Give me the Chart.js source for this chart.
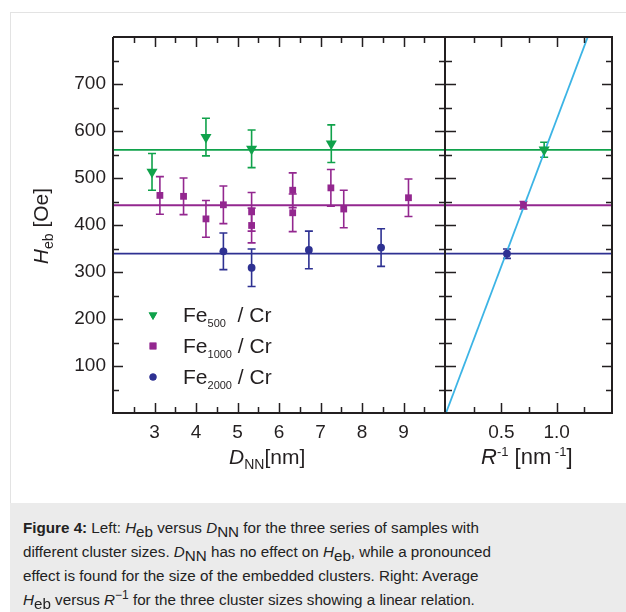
<!DOCTYPE html>
<html lang="en">
<head>
<meta charset="UTF-8">
<title>Heb versus DNN and R^-1</title>
<script src="https://cdn.jsdelivr.net/npm/chart.js"></script>
<style>
  body { margin: 0; width: 626px; height: 612px; background: #fff; position: relative; overflow: hidden;
         font-family: "Liberation Sans", Arial, sans-serif; color: #231f20; }
  .outline { position: absolute; left: 10px; top: 12px; width: 700px; height: 700px; border: 1px solid #e3e3e3; }
  .caption { position: absolute; left: 10px; top: 503px; width: 700px; height: 120px; background: #ebebeb; }
  canvas { position: absolute; top: 0; }
  .txt { position: absolute; white-space: nowrap; line-height: 21px; font-size: 21px; }
  .dn { position: relative; }
  .cap { position: absolute; left: 23px; top: 516px; font-size: 15.2px; line-height: 24px; white-space: nowrap; color: #222; }
</style>
</head>
<body>
<div class="outline"></div>
<div class="caption"></div>

<canvas id="leftChart" width="446" height="500" style="left:0"></canvas>
<canvas id="rightChart" width="180" height="500" style="left:446px"></canvas>

<!-- axis titles -->
<div class="txt" style="left:-58px; top:214px; width:200px; text-align:center; transform:rotate(-90deg);">
  <i>H</i><span class="dn" style="font-size:14px; top:5px;">eb</span> [Oe]
</div>
<div class="txt" style="left:229px; top:446px;">
  <i>D</i><span class="dn" style="font-size:14px; top:5px;">NN</span>[nm]
</div>
<div class="txt" style="left:481px; top:446px; font-size:22px;">
  <i>R</i><span class="dn" style="font-size:13px; top:-8px;">-1</span> [nm<span class="dn" style="font-size:13px; top:-8px;"> -1</span>]
</div>

<!-- legend labels -->
<div class="txt" style="left:183px; top:304px;">Fe<span class="dn" style="font-size:11px; top:5px;">500</span>&nbsp; / Cr</div>
<div class="txt" style="left:183px; top:335px;">Fe<span class="dn" style="font-size:11px; top:5px;">1000</span> / Cr</div>
<div class="txt" style="left:183px; top:366px;">Fe<span class="dn" style="font-size:11px; top:5px;">2000</span> / Cr</div>

<div class="cap">
  <b>Figure 4:</b> Left: <i>H</i><span class="dn" style="top:4px">eb</span> versus <i>D</i><span class="dn" style="top:4px">NN</span> for the three series of samples with<br>
  different cluster sizes. <i>D</i><span class="dn" style="top:4px">NN</span> has no effect on <i>H</i><span class="dn" style="top:4px">eb</span>, while a pronounced<br>
  effect is found for the size of the embedded clusters. Right: Average<br>
  <i>H</i><span class="dn" style="top:4px">eb</span> versus <i>R</i><span class="dn" style="top:-6px; font-size:12px">&minus;1</span> for the three cluster sizes showing a linear relation.
</div>

<script>
// Fe500 / Cr  (D_NN in nm, H_eb in Oe)
const fe500X   = [2.94, 4.24, 5.34, 7.26];
const fe500Y   = [513, 587, 562, 573];
const fe500Err = [39, 40, 40, 40];

// Fe1000 / Cr
const fe1000X   = [3.13, 3.70, 4.24, 4.66, 5.34, 5.34, 6.33, 6.33, 7.25, 7.56, 9.12];
const fe1000Y   = [463, 461, 413, 443, 428, 399, 474, 426, 479, 434, 458];
const fe1000Err = [40, 39, 39, 40, 41, 37, 37, 40, 39, 40, 40];

// Fe2000 / Cr
const fe2000X   = [4.66, 5.34, 6.72, 8.46];
const fe2000Y   = [344, 309, 347, 352];
const fe2000Err = [39, 40, 40, 40];

// averages (right panel) vs inverse cluster radius
const invR   = [0.887, 0.70, 0.551];
const avgHeb = [560, 442, 339];
const avgErr = [16, 8, 10];

// linear fit through origin
const fitX = [0, 1.5];
const fitY = [0, 937];

const colors = ['#10a24b', '#93278f', '#2e3192'];
const fitColor = '#3cb4e5';
const inkColor = '#231f20';

const leftX  = [2, 10];
const rightX = [0, 1.5];
const yRange = [0, 800];

const pts = (xs, ys) => xs.map((x, i) => ({ x: x, y: ys[i] }));
const hline = (range, v) => range.map(x => ({ x: x, y: v }));

const styles = [
  { pointStyle: 'triangle', rotation: 180, radius: 6.4, legendRadius: 5 },
  { pointStyle: 'rect', rotation: 0, radius: 4.8, legendRadius: 4.8 },
  { pointStyle: 'circle', rotation: 0, radius: 3.9, legendRadius: 3.5 }
];

function scatterSet(i, data, err) {
  return {
    type: 'scatter', data: data, yErr: err,
    pointStyle: styles[i].pointStyle, rotation: styles[i].rotation,
    pointRadius: styles[i].radius, pointHoverRadius: styles[i].radius,
    backgroundColor: colors[i], borderColor: colors[i], borderWidth: 0,
    order: 1
  };
}

function lineSet(data, color) {
  return {
    type: 'line', data: data, borderColor: color, borderWidth: 1.8,
    pointRadius: 0, fill: false, tension: 0, order: 5
  };
}

const isMult = (v, s) => Math.abs(v / s - Math.round(v / s)) < 1e-6;

// inward ticks and box frame
const framePlugin = {
  id: 'frame',
  afterDatasetsDraw(chart, args, opts) {
    const { ctx, chartArea: a, scales: { x, y } } = chart;
    ctx.save();
    ctx.strokeStyle = inkColor;
    ctx.lineWidth = 1.5;
    ctx.beginPath();
    x.ticks.forEach(t => {
      if (t.value <= x.min + 1e-9 || t.value >= x.max - 1e-9) return;
      const px = Math.round(x.getPixelForValue(t.value)) + 0.5;
      const len = isMult(t.value, opts.xMajor) ? 10 : 6;
      ctx.moveTo(px, a.bottom); ctx.lineTo(px, a.bottom - len);
      ctx.moveTo(px, a.top); ctx.lineTo(px, a.top + len);
    });
    y.ticks.forEach(t => {
      if (t.value <= y.min || t.value >= y.max) return;
      const py = Math.round(y.getPixelForValue(t.value)) + 0.5;
      const len = isMult(t.value, 100) ? 10 : 6;
      ctx.moveTo(a.left, py); ctx.lineTo(a.left + len, py);
      ctx.moveTo(a.right, py); ctx.lineTo(a.right - len, py);
    });
    ctx.stroke();
    ctx.lineWidth = 2;
    ctx.beginPath();
    if (opts.leftEdge) { ctx.moveTo(a.left, a.top); ctx.lineTo(a.left, a.bottom); }
    ctx.moveTo(a.left, a.top); ctx.lineTo(a.right, a.top);
    ctx.lineTo(a.right, a.bottom); ctx.lineTo(a.left - 1, a.bottom);
    ctx.stroke();
    ctx.restore();
  }
};

// vertical error bars with caps
const errorBarPlugin = {
  id: 'errorBars',
  beforeDatasetsDraw(chart) {
    const { ctx, scales: { y } } = chart;
    chart.data.datasets.forEach((ds, i) => {
      if (!ds.yErr) return;
      const meta = chart.getDatasetMeta(i);
      ctx.save();
      ctx.strokeStyle = ds.borderColor;
      ctx.lineWidth = 1.6;
      meta.data.forEach((pt, j) => {
        const v = ds.data[j].y, e = ds.yErr[j];
        const top = y.getPixelForValue(v + e), bot = y.getPixelForValue(v - e);
        ctx.beginPath();
        ctx.moveTo(pt.x, top); ctx.lineTo(pt.x, bot);
        ctx.moveTo(pt.x - 4, top); ctx.lineTo(pt.x + 4, top);
        ctx.moveTo(pt.x - 4, bot); ctx.lineTo(pt.x + 4, bot);
        ctx.stroke();
      });
      ctx.restore();
    });
  }
};

// legend markers (labels are html text)
const legendPlugin = {
  id: 'legendMarks',
  afterDraw(chart, args, opts) {
    if (!opts.show) return;
    const ctx = chart.ctx;
    styles.forEach((s, i) => {
      const cx = 153, cy = 315 + i * 31;
      ctx.save();
      ctx.fillStyle = colors[i];
      if (Chart.helpers && Chart.helpers.drawPoint) {
        Chart.helpers.drawPoint(ctx, { pointStyle: s.pointStyle, rotation: s.rotation, radius: s.legendRadius, borderWidth: 0 }, cx, cy);
        ctx.fill();
      }
      ctx.restore();
    });
  }
};

function scaleOpts(range, step, labelFn, width, height) {
  return {
    x: {
      type: 'linear', min: range[0], max: range[1],
      grid: { display: false, drawTicks: false }, border: { display: false },
      ticks: { stepSize: step, autoSkip: false, maxRotation: 0, padding: 8,
               color: inkColor, font: { family: 'Liberation Sans', size: 19 }, callback: labelFn },
      afterFit: s => { s.height = height; s.paddingLeft = 0; s.paddingRight = 0; }
    },
    y: {
      type: 'linear', min: yRange[0], max: yRange[1], display: width > 0,
      grid: { display: false, drawTicks: false }, border: { display: false },
      ticks: { stepSize: 50, autoSkip: false, padding: 7, color: inkColor,
               font: { family: 'Liberation Sans', size: 19 },
               callback: v => (isMult(v, 100) && v > yRange[0] && v < yRange[1]) ? v : '' },
      afterFit: s => { s.width = width; s.paddingTop = 0; s.paddingBottom = 0; }
    }
  };
}

const common = {
  responsive: false, animation: false, events: [],
  plugins: { legend: { display: false }, tooltip: { enabled: false } }
};

new Chart(document.getElementById('leftChart').getContext('2d'), {
  data: {
    datasets: [
      scatterSet(0, pts(fe500X, fe500Y), fe500Err),
      scatterSet(1, pts(fe1000X, fe1000Y), fe1000Err),
      scatterSet(2, pts(fe2000X, fe2000Y), fe2000Err),
      lineSet(hline(leftX, avgHeb[0]), colors[0]),
      lineSet(hline(leftX, avgHeb[1]), colors[1]),
      lineSet(hline(leftX, avgHeb[2]), colors[2])
    ]
  },
  options: Object.assign({}, common, {
    layout: { autoPadding: false, padding: { top: 37, right: 1, left: 0, bottom: 0 } },
    scales: scaleOpts(leftX, 0.5, v => (isMult(v, 1) && v > leftX[0] && v < leftX[1]) ? v : '', 113, 87),
    plugins: Object.assign({}, common.plugins, {
      frame: { xMajor: 1, leftEdge: true },
      legendMarks: { show: true }
    })
  }),
  plugins: [errorBarPlugin, framePlugin, legendPlugin]
});

new Chart(document.getElementById('rightChart').getContext('2d'), {
  data: {
    datasets: [
      scatterSet(0, pts([invR[0]], [avgHeb[0]]), [avgErr[0]]),
      scatterSet(1, pts([invR[1]], [avgHeb[1]]), [avgErr[1]]),
      scatterSet(2, pts([invR[2]], [avgHeb[2]]), [avgErr[2]]),
      lineSet(pts(fitX, fitY), fitColor),
      lineSet(hline(rightX, avgHeb[0]), colors[0]),
      lineSet(hline(rightX, avgHeb[1]), colors[1]),
      lineSet(hline(rightX, avgHeb[2]), colors[2])
    ]
  },
  options: Object.assign({}, common, {
    layout: { autoPadding: false, padding: { top: 37, right: 14, left: 0, bottom: 0 } },
    scales: scaleOpts(rightX, 0.25, v => (isMult(v, 0.5) && v > rightX[0] && v < rightX[1]) ? v.toFixed(1) : '', 0, 87),
    plugins: Object.assign({}, common.plugins, {
      frame: { xMajor: 0.5, leftEdge: false },
      legendMarks: { show: false }
    })
  }),
  plugins: [errorBarPlugin, framePlugin, legendPlugin]
});
</script>
</body>
</html>
